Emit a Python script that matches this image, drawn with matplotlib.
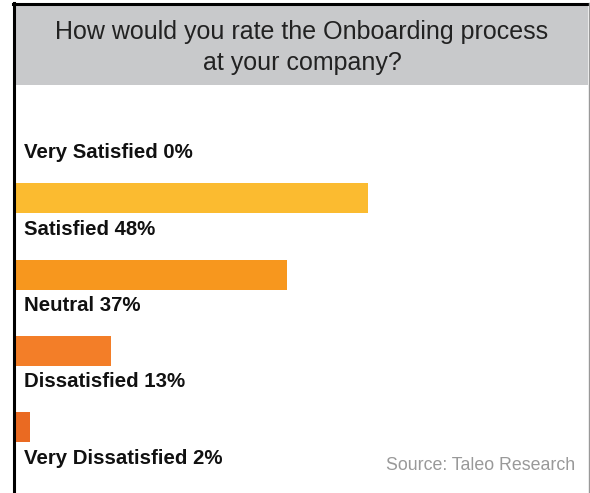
import matplotlib.pyplot as plt
from matplotlib.patches import Rectangle
from matplotlib.lines import Line2D

# Survey results
categorias = ["Very Satisfied", "Satisfied", "Neutral", "Dissatisfied", "Very Dissatisfied"]
porcentajes = [0, 48, 37, 13, 2]
colores = ["#FDD13A", "#FBBB30", "#F7971E", "#F37E28", "#EA6A22"]

titulo = "How would you rate the Onboarding process\nat your company?"
fuente = "Source: Taleo Research"

W, H = 590, 493
fig = plt.figure(figsize=(W / 100, H / 100), dpi=100)
fig.patch.set_facecolor("white")

def fx(px):
    return px / W

def fy(py):
    return 1 - py / H

# Header band
fig.add_artist(Rectangle((fx(15), fy(85)), fx(588) - fx(15), fy(5) - fy(85),
                         transform=fig.transFigure, facecolor="#C8C9CB",
                         edgecolor="none", zorder=0))
fig.text(fx(302), fy(47.5), titulo, ha="center", va="center", fontsize=18,
         family="Liberation Sans", color="#222222", linespacing=1.32)

# Frame lines
fig.add_artist(Line2D([fx(14), fx(14)], [fy(3), 0], transform=fig.transFigure,
                      color="black", lw=2.2))
fig.add_artist(Line2D([fx(13), fx(589)], [fy(4), fy(4)], transform=fig.transFigure,
                      color="black", lw=2.2))
fig.add_artist(Line2D([fx(588.5), fx(588.5)], [fy(3), 0], transform=fig.transFigure,
                      color="#999999", lw=1.0))

# Bar area
ax = fig.add_axes([fx(15), 0, fx(588) - fx(15), fy(85)])
ax.set_facecolor("none")
px_por_pct = 7.35
ax.set_xlim(0, (588 - 15) / px_por_pct)
paso = 76.3
ax.set_ylim((493 - 122) / paso, (85 - 122) / paso)

pos = list(range(len(categorias)))
ax.barh(pos, porcentajes, height=30 / paso, color=colores, left=0, zorder=2)

for i, (cat, val) in enumerate(zip(categorias, porcentajes)):
    ax.text(9 / px_por_pct, i + 31 / paso, f"{cat} {val}%", ha="left", va="center",
            fontsize=14.7, fontweight="bold", family="Liberation Sans", color="#111111")

ax.axis("off")

fig.text(fx(575), fy(466), fuente, ha="right", va="center", fontsize=12.8,
         family="Liberation Sans", color="#999999")

fig.savefig("out.png", dpi=100)
